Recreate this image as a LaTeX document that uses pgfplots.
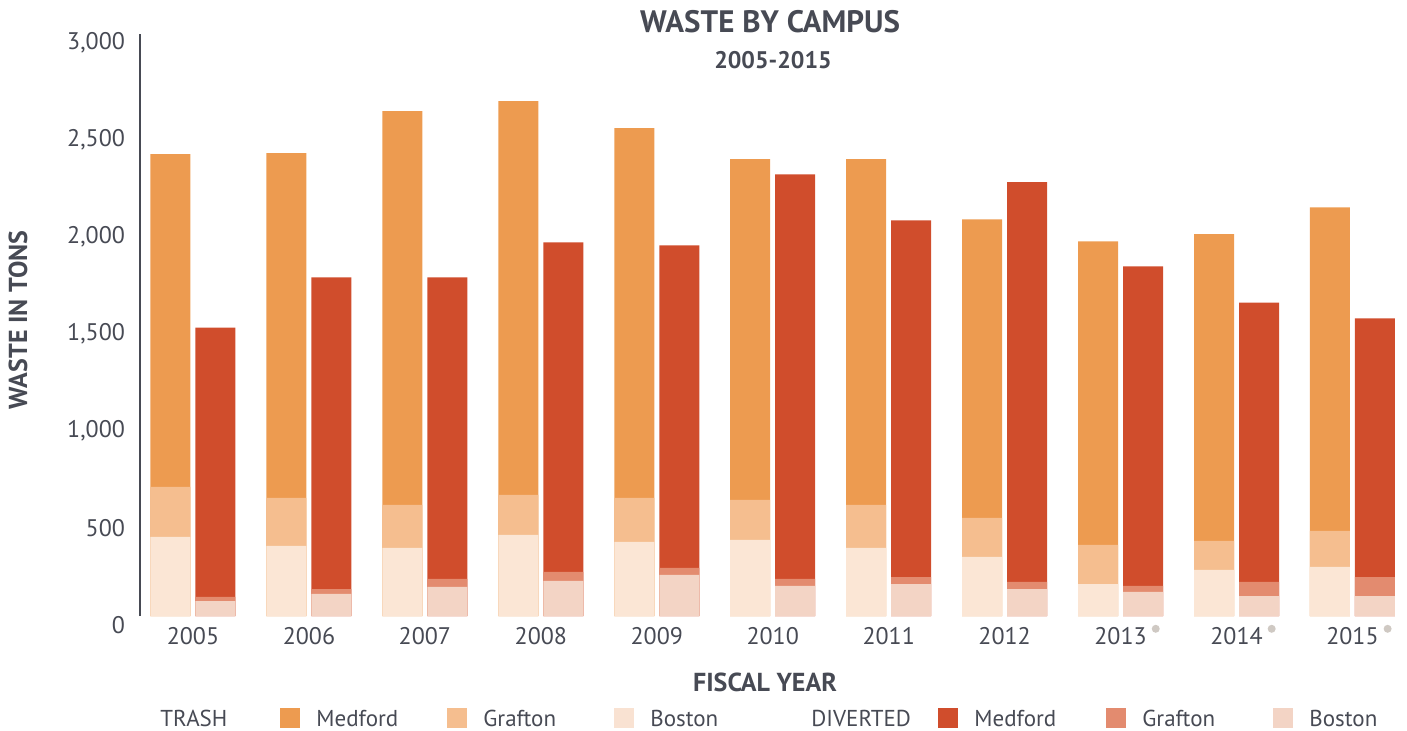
\documentclass[border=0pt]{standalone}
\usepackage{pgfplots}
\pgfplotsset{compat=1.18}
\usepackage{pgfplotstable}
\usepackage{fontspec}
\setmainfont{PT Sans}
\definecolor{txt}{HTML}{474A54}
\definecolor{tM}{HTML}{ED9B50}
\definecolor{tG}{HTML}{F5BE8F}
\definecolor{tB}{HTML}{FBE6D5}
\definecolor{dM}{HTML}{D04D2C}
\definecolor{dG}{HTML}{E38B6F}
\definecolor{dB}{HTML}{F3D4C5}
\definecolor{dotc}{HTML}{CFC9C3}
\pgfplotstableread{
x tM tG tB dM dG dB
0 2381 666 408 1487 98 77
1 2386 609 361 1745 139 114
2 2603 573 351 1745 191 150
3 2654 625 418 1926 227 181
4 2515 609 382 1911 248 212
5 2355 599 392 2277 191 155
6 2355 573 351 2040 201 165
7 2045 506 305 2236 176 139
8 1931 367 165 1802 155 124
9 1968 387 238 1616 176 103
10 2107 439 253 1534 201 103
}\datatable
\newcommand{\dt}{\rlap{\hspace{2.5pt}\smash{\raisebox{0.47em}{\tikz\fill[dotc] (0,0) circle (2pt);}}}}
\begin{document}
\begin{tikzpicture}
\path[use as bounding box] (-70pt,-57pt) rectangle (633.5pt,308pt);
\begin{axis}[
  at={(0,0)}, anchor=south west,
  scale only axis, width=630pt, height=291pt,
  xmin=-0.457, xmax=10.41, ymin=0, ymax=3000,
  axis lines=left, axis line style={draw=txt, line width=0.6pt, -},
  x axis line style={draw=none},
  major tick length=0pt,
  xtick={0,...,10},
  xticklabels={2005,2006,2007,2008,2009,2010,2011,2012,2013\dt,2014\dt,2015\dt},
  ytick={0,500,...,3000},
  /pgf/number format/1000 sep={,},
  /pgf/number format/assume math mode=true,
  tick label style={font=\fontsize{12}{14}\selectfont, text=txt},
  yticklabel style={xshift=-4pt, yshift=-4.5pt},
  xticklabel style={yshift=-2pt, text height=8.5pt},
  clip=false,
]
\addplot[ybar, bar width=0.345, bar shift=-0.194, fill=tM, draw=none] table[x=x,y=tM]{\datatable};
\addplot[ybar, bar width=0.345, bar shift=-0.194, fill=tG, draw=none] table[x=x,y=tG]{\datatable};
\addplot[ybar, bar width=0.345, bar shift=-0.194, fill=tB, draw=none] table[x=x,y=tB]{\datatable};
\addplot[ybar, bar width=0.345, bar shift=0.194, fill=dM, draw=none] table[x=x,y=dM]{\datatable};
\addplot[ybar, bar width=0.345, bar shift=0.194, fill=dG, draw=none] table[x=x,y=dG]{\datatable};
\addplot[ybar, bar width=0.345, bar shift=0.194, fill=dB, draw=none] table[x=x,y=dB]{\datatable};
\end{axis}
% titles
\node[text=txt, font=\fontsize{15.5}{18}\selectfont\bfseries] at (315pt,297pt) {WASTE BY CAMPUS};
\node[text=txt, font=\fontsize{12}{14}\selectfont\bfseries] at (316.5pt,278pt) {2005-2015};
\node[text=txt, font=\fontsize{13}{15}\selectfont\bfseries, rotate=90] at (-61pt,148pt) {WASTE IN TONS};
\node[text=txt, font=\fontsize{13}{15}\selectfont\bfseries] at (312.5pt,-33pt) {FISCAL YEAR};
% legend
\begin{scope}[every node/.style={text=txt, font=\fontsize{11.5}{13}\selectfont, anchor=base west, inner sep=0pt}]
\node at (10pt,-55pt) {TRASH};
\fill[tM] (70pt,-56pt) rectangle (80pt,-46pt); \node at (88pt,-55pt) {Medford};
\fill[tG] (153.5pt,-56pt) rectangle (163.5pt,-46pt); \node at (171.5pt,-55pt) {Grafton};
\fill[tB!80!dB] (237pt,-56pt) rectangle (247pt,-46pt); \node at (255pt,-55pt) {Boston};
\node at (335.5pt,-55pt) {DIVERTED};
\fill[dM] (399pt,-56pt) rectangle (409pt,-46pt); \node at (417pt,-55pt) {Medford};
\fill[dG] (483pt,-56pt) rectangle (493pt,-46pt); \node at (501pt,-55pt) {Grafton};
\fill[dB] (566.5pt,-56pt) rectangle (576.5pt,-46pt); \node at (584.5pt,-55pt) {Boston};
\end{scope}
\end{tikzpicture}
\end{document}
